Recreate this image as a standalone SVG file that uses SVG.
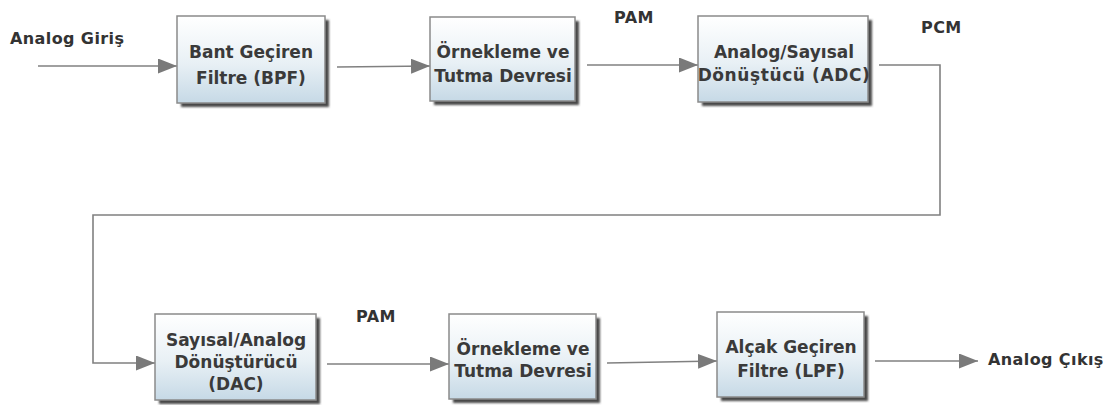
<svg xmlns="http://www.w3.org/2000/svg" width="1107" height="405" viewBox="0 0 1107 405">
<defs>
<linearGradient id="bg" x1="0" y1="0" x2="0" y2="1">
<stop offset="0" stop-color="#ffffff"/>
<stop offset="0.55" stop-color="#e8f0f5"/>
<stop offset="1" stop-color="#c6d9e6"/>
</linearGradient>
<filter id="sh" x="-10%" y="-10%" width="130%" height="130%">
<feGaussianBlur stdDeviation="1"/>
</filter>
<marker id="ah" markerWidth="20" markerHeight="16" refX="19" refY="7.5" orient="auto" markerUnits="userSpaceOnUse">
<path d="M0,0 L19,7.5 L0,15 Z" fill="#7a7a7a"/>
</marker>
</defs>
<style>
.box{fill:url(#bg);stroke:#8a8a8a;stroke-width:1.5}
.shadow{fill:#4a4a4a;filter:url(#sh)}
.t{font-family:"DejaVu Sans",Verdana,sans-serif;font-weight:bold;font-size:17px;fill:#3a3a3a;text-anchor:middle}
.lbl{font-family:"DejaVu Sans",Verdana,sans-serif;font-weight:bold;font-size:16px;letter-spacing:0.4px;fill:#333}
.c{fill:none;stroke:#808080;stroke-width:1.6}
</style>
<rect width="1107" height="405" fill="#ffffff"/>
<g id="labels">
<text class="lbl" x="10" y="44">Analog Giriş</text>
<text class="lbl" x="614" y="23">PAM</text>
<text class="lbl" x="921" y="33">PCM</text>
<text class="lbl" x="356" y="322">PAM</text>
<text class="lbl" x="988" y="365">Analog Çıkış</text>
</g>
<g id="connectors">
<path class="c" d="M38,66 L177,66" marker-end="url(#ah)"/>
<path class="c" d="M337,67 L430,66" marker-end="url(#ah)"/>
<path class="c" d="M587,65 L698,65" marker-end="url(#ah)"/>
<path class="c" d="M879,65 L940,65 L940,215 L93,215 L93,363 L155,363" marker-end="url(#ah)"/>
<path class="c" d="M327,364 L449,364" marker-end="url(#ah)"/>
<path class="c" d="M607,363 L717,361" marker-end="url(#ah)"/>
<path class="c" d="M875,361 L978,361" marker-end="url(#ah)"/>
</g>
<g id="bpf">
<rect class="shadow" x="181" y="20" width="148" height="87"/>
<rect class="box" x="177" y="16" width="148" height="87"/>
<text class="t" x="251" y="58">Bant Geçiren</text>
<text class="t" x="251" y="84">Filtre (BPF)</text>
</g>
<g id="sh1">
<rect class="shadow" x="434" y="21" width="145" height="84"/>
<rect class="box" x="430" y="17" width="145" height="84"/>
<text class="t" x="503" y="58">Örnekleme ve</text>
<text class="t" x="503" y="82">Tutma Devresi</text>
</g>
<g id="adc">
<rect class="shadow" x="702" y="20" width="170" height="86"/>
<rect class="box" x="698" y="16" width="170" height="86"/>
<text class="t" x="784" y="58">Analog/Sayısal</text>
<text class="t" x="784" y="81" letter-spacing="0.6">Dönüştücü (ADC)</text>
</g>
<g id="dac">
<rect class="shadow" x="159" y="318" width="161" height="86"/>
<rect class="box" x="155" y="314" width="161" height="86"/>
<text class="t" x="236" y="346">Sayısal/Analog</text>
<text class="t" x="236" y="368">Dönüştürücü</text>
<text class="t" x="236" y="390">(DAC)</text>
</g>
<g id="sh2">
<rect class="shadow" x="453" y="318" width="147" height="85"/>
<rect class="box" x="449" y="314" width="147" height="85"/>
<text class="t" x="523" y="355">Örnekleme ve</text>
<text class="t" x="523" y="377">Tutma Devresi</text>
</g>
<g id="lpf">
<rect class="shadow" x="721" y="316" width="147" height="85"/>
<rect class="box" x="717" y="312" width="147" height="85"/>
<text class="t" x="791" y="353">Alçak Geçiren</text>
<text class="t" x="791" y="377">Filtre (LPF)</text>
</g>
</svg>
